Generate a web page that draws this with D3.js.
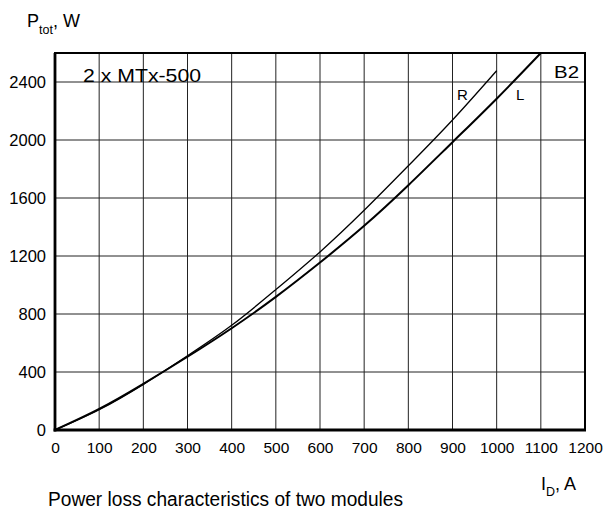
<!DOCTYPE html>
<html>
<head>
<meta charset="utf-8">
<script src="https://cdn.jsdelivr.net/npm/d3@7/dist/d3.min.js"></script>
<style>
  html, body { margin: 0; padding: 0; background: #fff; }
  svg { display: block; font-family: "Liberation Sans", Arial, Helvetica, sans-serif; }
</style>
</head>
<body>
<svg id="chart" width="606" height="511"></svg>
<script>
// ---- data ----
const currentR = [0, 100, 200, 300, 400, 500, 600, 700, 800, 900, 1000];
const powerR   = [0, 140, 315, 512, 722, 968, 1228, 1515, 1822, 2138, 2478];
const currentL = [0, 100, 200, 300, 400, 500, 600, 700, 800, 900, 1000, 1100];
const powerL   = [0, 145, 318, 505, 702, 918, 1155, 1408, 1688, 1985, 2285, 2600];
const xTicks = [0, 100, 200, 300, 400, 500, 600, 700, 800, 900, 1000, 1100, 1200];
const yTicks = [0, 400, 800, 1200, 1600, 2000, 2400];
const xGrid = [100, 200, 300, 400, 500, 600, 700, 800, 900, 1000, 1100];
const yGrid = [400, 800, 1200, 1600, 2000, 2400];

const svg = d3.select("#chart");
const x = d3.scaleLinear().domain([0, 1200]).range([55, 585]);
const y = d3.scaleLinear().domain([0, 2600]).range([430, 53]);

// grid
svg.append("g").selectAll("line").data(xGrid).join("line")
  .attr("x1", d => x(d)).attr("x2", d => x(d))
  .attr("y1", y(0)).attr("y2", y(2600))
  .attr("stroke", "#222").attr("stroke-width", 1);
svg.append("g").selectAll("line").data(yGrid).join("line")
  .attr("x1", x(0)).attr("x2", x(1200))
  .attr("y1", d => y(d)).attr("y2", d => y(d))
  .attr("stroke", "#222").attr("stroke-width", 1);

// frame
svg.append("rect")
  .attr("x", x(0)).attr("y", y(2600))
  .attr("width", x(1200) - x(0)).attr("height", y(0) - y(2600))
  .attr("fill", "none").attr("stroke", "#000").attr("stroke-width", 2);
svg.append("line").attr("x1", x(0)).attr("x2", x(0)).attr("y1", y(2600)).attr("y2", y(0) + 1.5)
  .attr("stroke", "#000").attr("stroke-width", 2.8);
svg.append("line").attr("x1", x(0) - 1.4).attr("x2", x(1200) + 1).attr("y1", y(0)).attr("y2", y(0))
  .attr("stroke", "#000").attr("stroke-width", 2.8);

// axes
const xAxis = svg.append("g").attr("transform", `translate(0,${y(0)})`)
  .call(d3.axisBottom(x).tickValues(xTicks).tickSize(0).tickPadding(12).tickFormat(d3.format("d")));
xAxis.select(".domain").remove();
xAxis.selectAll("text").attr("font-size", 15.5).attr("fill", "#000")
  .attr("font-family", '"Liberation Sans", Arial, sans-serif');

const yAxis = svg.append("g").attr("transform", `translate(46,0)`)
  .call(d3.axisLeft(y).tickValues(yTicks).tickSize(0).tickPadding(0).tickFormat(d3.format("d")));
yAxis.select(".domain").remove();
yAxis.selectAll("text").attr("font-size", 16.5).attr("fill", "#000")
  .attr("font-family", '"Liberation Sans", Arial, sans-serif');

// curves
const line = d3.line().x(d => x(d[0])).y(d => y(d[1])).curve(d3.curveNatural);
svg.append("path").datum(d3.zip(currentR, powerR))
  .attr("d", line).attr("fill", "none").attr("stroke", "#000").attr("stroke-width", 1.3);
svg.append("path").datum(d3.zip(currentL, powerL))
  .attr("d", line).attr("fill", "none").attr("stroke", "#000").attr("stroke-width", 2);

// labels
svg.append("text").attr("x", 457).attr("y", 100).attr("font-size", 15).text("R");
svg.append("text").attr("x", 516).attr("y", 100).attr("font-size", 15).text("L");
svg.append("text").attr("x", 554).attr("y", 78).attr("font-size", 17)
  .attr("textLength", 25).attr("lengthAdjust", "spacingAndGlyphs").text("B2");
svg.append("text").attr("x", 83).attr("y", 82).attr("font-size", 18.5)
  .attr("textLength", 118).attr("lengthAdjust", "spacingAndGlyphs").text("2 x MTx-500");

// y title
const yt = svg.append("text").attr("x", 27).attr("y", 27).attr("font-size", 18);
yt.append("tspan").text("P");
yt.append("tspan").attr("font-size", 12.5).attr("dy", 7).text("tot");
yt.append("tspan").attr("dy", -7).text(", W");

// x title
const xt = svg.append("text").attr("x", 541).attr("y", 490).attr("font-size", 18);
xt.append("tspan").text("I");
xt.append("tspan").attr("font-size", 12.5).attr("dy", 6).text("D");
xt.append("tspan").attr("dy", -6).text(", A");

// caption
svg.append("text").attr("x", 48).attr("y", 506).attr("font-size", 20)
  .attr("textLength", 355).attr("lengthAdjust", "spacingAndGlyphs")
  .text("Power loss characteristics of two modules");
</script>
</body>
</html>
